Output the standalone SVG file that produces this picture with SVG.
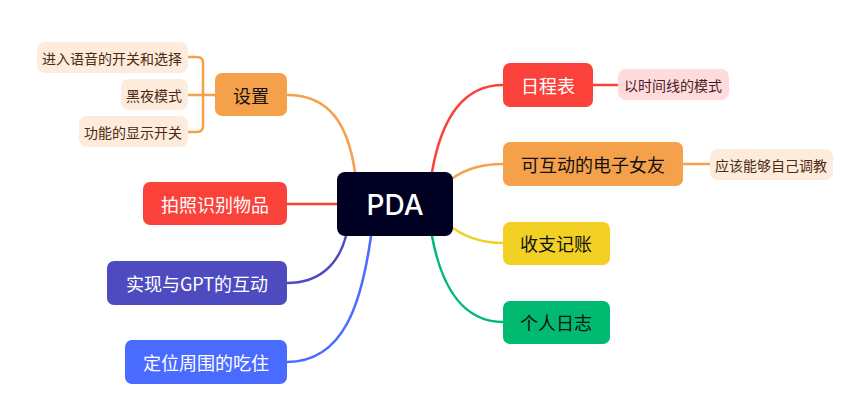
<svg xmlns="http://www.w3.org/2000/svg" width="859" height="418" viewBox="0 0 859 418">
<style>
text{font-family:"Noto Sans CJK SC","Liberation Sans",sans-serif;text-anchor:middle;dominant-baseline:central}
.m{font-size:18px}
.s{font-size:14px}
.w{fill:#ffffff}
.k{fill:#111111}
.sub{fill:#4a2a10}
.c{fill:none;stroke-width:2.5;stroke-linecap:round}
</style>
<rect width="859" height="418" fill="#ffffff"/>
<g id="connectors">
<path class="c" stroke="#F5A04A" d="M287,95 C330,95 348,125 355,172"/>
<path class="c" stroke="#F5A04A" d="M215,95 H188 M188,57 H197 Q203,57 203,63 V126 Q203,132 197,132 H188"/>
<path class="c" stroke="#FA423B" d="M287,204 H337"/>
<path class="c" stroke="#4E4BC0" d="M287,283 C318,283 338,266 346,236"/>
<path class="c" stroke="#4A6BFF" d="M287,362 C345,362 362,300 371,236"/>
<path class="c" stroke="#FA423B" d="M432,172 C442,115 465,85 503,85"/>
<path class="c" stroke="#FA423B" d="M593,85 H618"/>
<path class="c" stroke="#F5A04A" d="M453,178 C467,168 482,164 503,164"/>
<path class="c" stroke="#F5A04A" d="M683,164 H710"/>
<path class="c" stroke="#F2D024" d="M453,228 C467,238 482,243 503,243"/>
<path class="c" stroke="#00BA72" d="M432,236 C442,290 465,322 503,322"/>
</g>
<g id="n-pda"><rect x="337" y="172" width="116" height="64" rx="8" fill="#000022"/><text x="395" y="205" font-size="28" font-weight="500" class="w" style="font-family:Inter,'Liberation Sans',sans-serif">PDA</text></g>
<g id="n-settings"><rect x="215" y="73" width="72" height="43" rx="7" fill="#F5A04A"/><text x="251" y="95" class="m k">设置</text></g>
<g id="n-voice"><rect x="37" y="42" width="151" height="31" rx="8" fill="#FDEBDC"/><text x="112" y="58" class="s sub">进入语音的开关和选择</text></g>
<g id="n-night"><rect x="121" y="79" width="67" height="31" rx="8" fill="#FDEBDC"/><text x="154" y="95" class="s sub">黑夜模式</text></g>
<g id="n-display"><rect x="79" y="116" width="109" height="31" rx="8" fill="#FDEBDC"/><text x="133" y="132" class="s sub">功能的显示开关</text></g>
<g id="n-photo"><rect x="143" y="182" width="144" height="43" rx="7" fill="#FA423B"/><text x="215" y="204" class="m w">拍照识别物品</text></g>
<g id="n-gpt"><rect x="107" y="261" width="180" height="44" rx="7" fill="#4E4BC0"/><text x="197" y="283" class="m w">实现与GPT的互动</text></g>
<g id="n-locate"><rect x="125" y="340" width="162" height="44" rx="7" fill="#4A6BFF"/><text x="206" y="362" class="m w">定位周围的吃住</text></g>
<g id="n-schedule"><rect x="503" y="63" width="90" height="44" rx="7" fill="#FA423B"/><text x="548" y="85" class="m w">日程表</text></g>
<g id="n-timeline"><rect x="618" y="69" width="111" height="31" rx="8" fill="#FFDCDB"/><text x="673" y="85" class="s" fill="#4a1a2a">以时间线的模式</text></g>
<g id="n-gf"><rect x="503" y="142" width="180" height="44" rx="7" fill="#F5A04A"/><text x="593" y="164" class="m k">可互动的电子女友</text></g>
<g id="n-tune"><rect x="710" y="149" width="123" height="31" rx="8" fill="#FDEBDC"/><text x="771" y="165" class="s sub">应该能够自己调教</text></g>
<g id="n-ledger"><rect x="503" y="222" width="107" height="43" rx="7" fill="#F2D024"/><text x="556" y="243" class="m k">收支记账</text></g>
<g id="n-diary"><rect x="503" y="301" width="107" height="43" rx="7" fill="#00BA72"/><text x="556" y="322" class="m k">个人日志</text></g>
</svg>
